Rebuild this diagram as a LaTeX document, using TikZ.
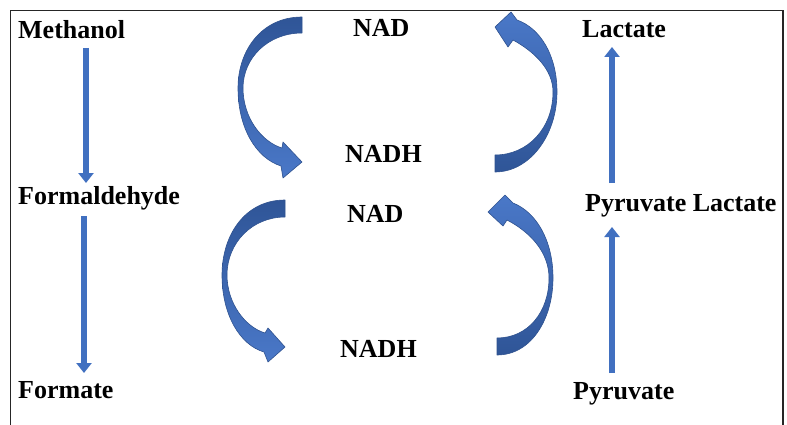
\documentclass[tikz,border=0pt]{standalone}
\usepackage{fontspec}
\setmainfont{Liberation Serif}
\usetikzlibrary{arrows.meta}
\definecolor{bandlight}{HTML}{4A78C8}
\definecolor{banddark}{HTML}{2F5597}
\definecolor{bandedge}{HTML}{2F528F}
\definecolor{shaftblue}{HTML}{4170C0}
\definecolor{framegray}{HTML}{262626}
\tikzset{
  label/.style={anchor=base west, inner sep=0pt, font=\fontsize{26}{30}\selectfont\bfseries},
  pathway/.style={draw=shaftblue, line width=5.5pt, -{Triangle[width=15pt,length=10pt]}},
  band/.style={draw=bandedge, line width=0.6pt, line join=round},
}
\begin{document}
\begin{tikzpicture}[x=1pt,y=-1pt]
\useasboundingbox (0,0) rectangle (787,425);
% open frame
\draw[framegray, line width=1.5pt] (10.5,425) -- (10.5,10.5) -- (783,10.5) -- (783,425);

% compounds and cofactors
\node[label] (methanol) at (18,39) {Methanol};
\node[label] (formaldehyde) at (18,204) {Formaldehyde};
\node[label] (formate) at (18,398) {Formate};
\node[label] (nadA) at (353,37) {NAD};
\node[label] (nadhA) at (345,163) {NADH};
\node[label] (nadB) at (347,222) {NAD};
\node[label] (nadhB) at (340,357) {NADH};
\node[label] (lactate) at (582,38) {Lactate};
\node[label] (pyrlac) at (585,211) {Pyruvate Lactate};
\node[label] (pyruvate) at (573,399) {Pyruvate};

% ends of the straight pathway arrows
\coordinate (m1) at (86,48);   \coordinate (m2) at (86,183);
\coordinate (f1) at (84,216);  \coordinate (f2) at (84,373);
\coordinate (l1) at (612,183); \coordinate (l2) at (612,47);
\coordinate (p1) at (612,373); \coordinate (p2) at (612,227);
\draw[pathway] (m1) -- (m2);
\draw[pathway] (f1) -- (f2);
\draw[pathway] (l1) -- (l2);
\draw[pathway] (p1) -- (p2);

% curved arrow NAD -> NADH (upper left)
\path[band, top color=banddark, bottom color=bandlight]
  (302,17) .. controls (262,17) and (238,50) .. (238,88)
  .. controls (238,128) and (256,158) .. (281,166)
  -- (283,178) -- (302,162) -- (283,142) -- (282,148)
  .. controls (262,142) and (243,118) .. (243,88)
  .. controls (243,58) and (268,33) .. (302,33) -- cycle;

% curved arrow NADH -> NAD (upper right)
\path[band, top color=bandlight, bottom color=banddark]
  (495,172) .. controls (530,172) and (557,135) .. (557,92)
  .. controls (557,55) and (540,28) .. (517,20)
  -- (511,12) -- (495,27) -- (508,47) -- (513,40)
  .. controls (535,52) and (553,70) .. (553,92)
  .. controls (553,128) and (528,155) .. (495,155) -- cycle;

% curved arrow NAD -> NADH (lower left)
\path[band, top color=banddark, bottom color=bandlight]
  (285,200) .. controls (245,200) and (222,235) .. (222,275)
  .. controls (222,315) and (240,345) .. (264,352)
  -- (268,362) -- (285,347) -- (268,328) -- (265,333)
  .. controls (245,327) and (227,303) .. (227,275)
  .. controls (227,243) and (252,217) .. (285,217) -- cycle;

% curved arrow NADH -> NAD (lower right)
\path[band, top color=bandlight, bottom color=banddark]
  (497,355) .. controls (532,355) and (553,318) .. (553,278)
  .. controls (553,240) and (536,212) .. (513,203)
  -- (505,195) -- (488,212) -- (503,226) -- (507,220)
  .. controls (530,232) and (549,252) .. (549,278)
  .. controls (549,312) and (528,338) .. (497,338) -- cycle;
\end{tikzpicture}
\end{document}
